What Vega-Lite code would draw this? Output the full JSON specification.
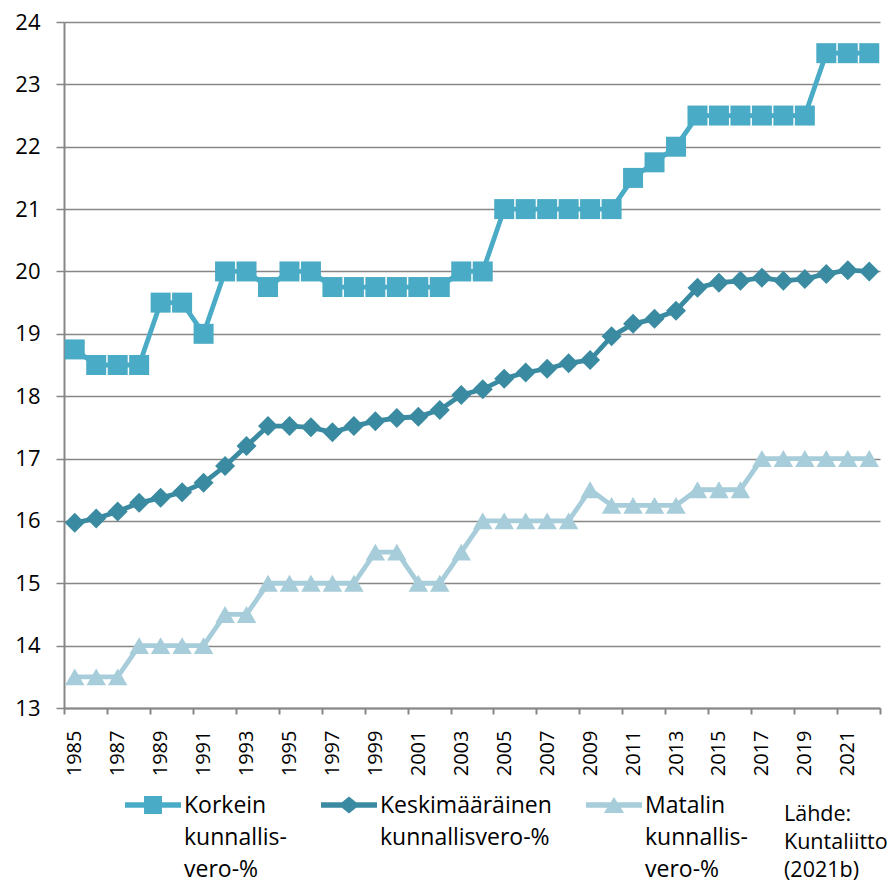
{
  "$schema": "https://vega.github.io/schema/vega-lite/v6.json",
  "width": 816,
  "height": 686,
  "autosize": {"type": "none"},
  "padding": {"left": 64, "top": 22, "right": 9, "bottom": 172},
  "background": "white",
  "config": {
    "font": "Open Sans",
    "view": {"stroke": null}
  },
  "title": {
    "text": ["Lähde:", "Kuntaliitto", "(2021b)"],
    "orient": "bottom",
    "anchor": "end",
    "frame": "group",
    "align": "left",
    "dx": -96,
    "offset": -78,
    "font": "Open Sans",
    "fontSize": 21.5,
    "fontWeight": "normal",
    "color": "#000000",
    "lineHeight": 28
  },
  "data": {
    "values": [
      {"vuosi": 1985, "Korkein kunnallisvero-%": 18.75, "Keskimääräinen kunnallisvero-%": 15.97, "Matalin kunnallisvero-%": 13.5},
      {"vuosi": 1986, "Korkein kunnallisvero-%": 18.5, "Keskimääräinen kunnallisvero-%": 16.04, "Matalin kunnallisvero-%": 13.5},
      {"vuosi": 1987, "Korkein kunnallisvero-%": 18.5, "Keskimääräinen kunnallisvero-%": 16.15, "Matalin kunnallisvero-%": 13.5},
      {"vuosi": 1988, "Korkein kunnallisvero-%": 18.5, "Keskimääräinen kunnallisvero-%": 16.29, "Matalin kunnallisvero-%": 14},
      {"vuosi": 1989, "Korkein kunnallisvero-%": 19.5, "Keskimääräinen kunnallisvero-%": 16.37, "Matalin kunnallisvero-%": 14},
      {"vuosi": 1990, "Korkein kunnallisvero-%": 19.5, "Keskimääräinen kunnallisvero-%": 16.46, "Matalin kunnallisvero-%": 14},
      {"vuosi": 1991, "Korkein kunnallisvero-%": 19.0, "Keskimääräinen kunnallisvero-%": 16.61, "Matalin kunnallisvero-%": 14},
      {"vuosi": 1992, "Korkein kunnallisvero-%": 20.0, "Keskimääräinen kunnallisvero-%": 16.88, "Matalin kunnallisvero-%": 14.5},
      {"vuosi": 1993, "Korkein kunnallisvero-%": 20.0, "Keskimääräinen kunnallisvero-%": 17.2, "Matalin kunnallisvero-%": 14.5},
      {"vuosi": 1994, "Korkein kunnallisvero-%": 19.75, "Keskimääräinen kunnallisvero-%": 17.52, "Matalin kunnallisvero-%": 15},
      {"vuosi": 1995, "Korkein kunnallisvero-%": 20.0, "Keskimääräinen kunnallisvero-%": 17.52, "Matalin kunnallisvero-%": 15},
      {"vuosi": 1996, "Korkein kunnallisvero-%": 20.0, "Keskimääräinen kunnallisvero-%": 17.5, "Matalin kunnallisvero-%": 15},
      {"vuosi": 1997, "Korkein kunnallisvero-%": 19.75, "Keskimääräinen kunnallisvero-%": 17.42, "Matalin kunnallisvero-%": 15},
      {"vuosi": 1998, "Korkein kunnallisvero-%": 19.75, "Keskimääräinen kunnallisvero-%": 17.52, "Matalin kunnallisvero-%": 15},
      {"vuosi": 1999, "Korkein kunnallisvero-%": 19.75, "Keskimääräinen kunnallisvero-%": 17.6, "Matalin kunnallisvero-%": 15.5},
      {"vuosi": 2000, "Korkein kunnallisvero-%": 19.75, "Keskimääräinen kunnallisvero-%": 17.65, "Matalin kunnallisvero-%": 15.5},
      {"vuosi": 2001, "Korkein kunnallisvero-%": 19.75, "Keskimääräinen kunnallisvero-%": 17.67, "Matalin kunnallisvero-%": 15},
      {"vuosi": 2002, "Korkein kunnallisvero-%": 19.75, "Keskimääräinen kunnallisvero-%": 17.78, "Matalin kunnallisvero-%": 15},
      {"vuosi": 2003, "Korkein kunnallisvero-%": 20.0, "Keskimääräinen kunnallisvero-%": 18.02, "Matalin kunnallisvero-%": 15.5},
      {"vuosi": 2004, "Korkein kunnallisvero-%": 20.0, "Keskimääräinen kunnallisvero-%": 18.11, "Matalin kunnallisvero-%": 16},
      {"vuosi": 2005, "Korkein kunnallisvero-%": 21.0, "Keskimääräinen kunnallisvero-%": 18.28, "Matalin kunnallisvero-%": 16},
      {"vuosi": 2006, "Korkein kunnallisvero-%": 21.0, "Keskimääräinen kunnallisvero-%": 18.38, "Matalin kunnallisvero-%": 16},
      {"vuosi": 2007, "Korkein kunnallisvero-%": 21.0, "Keskimääräinen kunnallisvero-%": 18.44, "Matalin kunnallisvero-%": 16},
      {"vuosi": 2008, "Korkein kunnallisvero-%": 21.0, "Keskimääräinen kunnallisvero-%": 18.53, "Matalin kunnallisvero-%": 16},
      {"vuosi": 2009, "Korkein kunnallisvero-%": 21.0, "Keskimääräinen kunnallisvero-%": 18.58, "Matalin kunnallisvero-%": 16.5},
      {"vuosi": 2010, "Korkein kunnallisvero-%": 21.0, "Keskimääräinen kunnallisvero-%": 18.96, "Matalin kunnallisvero-%": 16.25},
      {"vuosi": 2011, "Korkein kunnallisvero-%": 21.5, "Keskimääräinen kunnallisvero-%": 19.16, "Matalin kunnallisvero-%": 16.25},
      {"vuosi": 2012, "Korkein kunnallisvero-%": 21.75, "Keskimääräinen kunnallisvero-%": 19.24, "Matalin kunnallisvero-%": 16.25},
      {"vuosi": 2013, "Korkein kunnallisvero-%": 22.0, "Keskimääräinen kunnallisvero-%": 19.37, "Matalin kunnallisvero-%": 16.25},
      {"vuosi": 2014, "Korkein kunnallisvero-%": 22.5, "Keskimääräinen kunnallisvero-%": 19.74, "Matalin kunnallisvero-%": 16.5},
      {"vuosi": 2015, "Korkein kunnallisvero-%": 22.5, "Keskimääräinen kunnallisvero-%": 19.82, "Matalin kunnallisvero-%": 16.5},
      {"vuosi": 2016, "Korkein kunnallisvero-%": 22.5, "Keskimääräinen kunnallisvero-%": 19.85, "Matalin kunnallisvero-%": 16.5},
      {"vuosi": 2017, "Korkein kunnallisvero-%": 22.5, "Keskimääräinen kunnallisvero-%": 19.9, "Matalin kunnallisvero-%": 17},
      {"vuosi": 2018, "Korkein kunnallisvero-%": 22.5, "Keskimääräinen kunnallisvero-%": 19.85, "Matalin kunnallisvero-%": 17},
      {"vuosi": 2019, "Korkein kunnallisvero-%": 22.5, "Keskimääräinen kunnallisvero-%": 19.88, "Matalin kunnallisvero-%": 17},
      {"vuosi": 2020, "Korkein kunnallisvero-%": 23.5, "Keskimääräinen kunnallisvero-%": 19.96, "Matalin kunnallisvero-%": 17},
      {"vuosi": 2021, "Korkein kunnallisvero-%": 23.5, "Keskimääräinen kunnallisvero-%": 20.02, "Matalin kunnallisvero-%": 17},
      {"vuosi": 2022, "Korkein kunnallisvero-%": 23.5, "Keskimääräinen kunnallisvero-%": 20.0, "Matalin kunnallisvero-%": 17}
    ]
  },
  "transform": [
    {"fold": ["Korkein kunnallisvero-%", "Keskimääräinen kunnallisvero-%", "Matalin kunnallisvero-%"], "as": ["sarja", "arvo"]}
  ],
  "encoding": {
    "x": {
      "field": "vuosi",
      "type": "quantitative",
      "scale": {"domain": [1984.5, 2022.5], "nice": false, "zero": false},
      "axis": {
        "title": null,
        "grid": false,
        "values": [1984.5, 1985, 1986.5, 1987, 1988.5, 1989, 1990.5, 1991, 1992.5, 1993, 1994.5, 1995, 1996.5, 1997, 1998.5, 1999, 2000.5, 2001, 2002.5, 2003, 2004.5, 2005, 2006.5, 2007, 2008.5, 2009, 2010.5, 2011, 2012.5, 2013, 2014.5, 2015, 2016.5, 2017, 2018.5, 2019, 2020.5, 2021, 2022.5],
        "labelExpr": "datum.value % 1 == 0 ? format(datum.value, 'd') : ''",
        "labelAngle": -90,
        "labelAlign": "right",
        "labelBaseline": "middle",
        "labelOverlap": false,
        "labelFlush": false,
        "labelFont": "Open Sans",
        "labelFontSize": 20,
        "labelColor": "#000000",
        "labelPadding": 16,
        "tickSize": 6,
        "tickWidth": 2,
        "tickColor": "#878787",
        "tickOpacity": {"condition": {"test": "datum.value % 1 == 0", "value": 0}, "value": 1},
        "domainColor": "#878787",
        "domainWidth": 2
      }
    },
    "y": {
      "field": "arvo",
      "type": "quantitative",
      "scale": {"domain": [13, 24], "nice": false, "zero": false},
      "axis": {
        "title": null,
        "values": [13, 14, 15, 16, 17, 18, 19, 20, 21, 22, 23, 24],
        "grid": true,
        "gridColor": "#878787",
        "gridWidth": 1.5,
        "domainColor": "#878787",
        "domainWidth": 2,
        "tickColor": "#878787",
        "tickWidth": 1.5,
        "tickSize": 8,
        "labelFont": "Open Sans",
        "labelFontSize": 22,
        "labelColor": "#000000",
        "labelPadding": 16
      }
    },
    "color": {
      "field": "sarja",
      "type": "nominal",
      "scale": {
        "domain": ["Korkein kunnallisvero-%", "Keskimääräinen kunnallisvero-%", "Matalin kunnallisvero-%"],
        "range": ["#4aabc6", "#3a8ba1", "#a6cdd9"]
      },
      "legend": {
        "title": null,
        "orient": "none",
        "legendX": 61,
        "legendY": 755,
        "direction": "horizontal",
        "columns": 3,
        "padding": 0,
        "columnPadding": 34,
        "symbolSize": 3136,
        "symbolStrokeWidth": 0,
        "symbolOpacity": 1,
        "labelFont": "Open Sans",
        "labelFontSize": 23,
        "labelColor": "#000000",
        "labelLimit": 0,
        "labelOffset": 3,
        "labelBaseline": "alphabetic",
        "labelExpr": "datum.label == 'Korkein kunnallisvero-%' ? ['Korkein', 'kunnallis-', 'vero-%'] : datum.label == 'Keskimääräinen kunnallisvero-%' ? ['Keskimääräinen', 'kunnallisvero-%', ''] : ['Matalin', 'kunnallis-', 'vero-%']",
        "encode": {
          "symbols": {
            "update": {
              "shape": {"signal": "datum.value == 'Korkein kunnallisvero-%' ? 'M-1,-0.1H1V0.1H-1Z M-0.32,-0.32H0.32V0.32H-0.32Z' : datum.value == 'Keskimääräinen kunnallisvero-%' ? 'M-1,-0.1H1V0.1H-1Z M-0.375,0L0,-0.3L0.375,0L0,0.3Z' : 'M-1,-0.1H1V0.1H-1Z M-0.36,0.29L0,-0.29L0.36,0.29Z'"},
              "fill": {"signal": "scale('color', datum.value)"},
              "fillOpacity": {"value": 1},
              "opacity": {"value": 1},
              "strokeWidth": {"value": 0}
            }
          },
          "labels": {
            "update": {
              "lineHeight": {"value": 32},
              "dy": {"value": 8}
            }
          }
        }
      }
    }
  },
  "layer": [
    {"mark": {"type": "line", "strokeWidth": 4.8}},
    {
      "transform": [{"filter": "datum.sarja == 'Korkein kunnallisvero-%'"}],
      "mark": {"type": "point", "shape": "square", "filled": true, "opacity": 1, "size": 400}
    },
    {
      "transform": [{"filter": "datum.sarja == 'Keskimääräinen kunnallisvero-%'"}],
      "mark": {"type": "point", "shape": "diamond", "filled": true, "opacity": 1, "size": 400}
    },
    {
      "transform": [{"filter": "datum.sarja == 'Matalin kunnallisvero-%'"}],
      "mark": {"type": "point", "shape": "triangle-up", "filled": true, "opacity": 1, "size": 380}
    }
  ]
}
